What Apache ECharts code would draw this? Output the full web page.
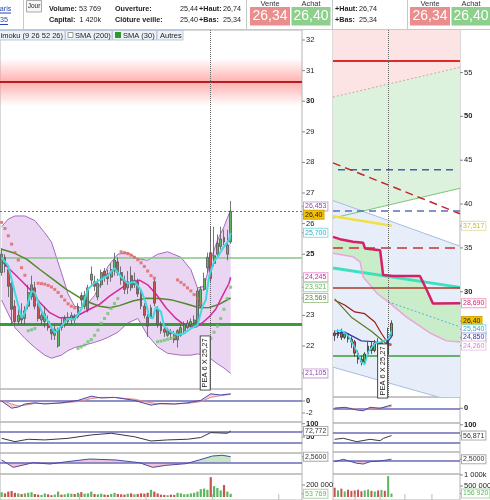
<!DOCTYPE html>
<html>
<head>
<meta charset="utf-8">
<title>Cours</title>
<script src="https://cdn.jsdelivr.net/npm/echarts@6/dist/echarts.min.js"></script>
<style>
  html, body { margin: 0; padding: 0; background: #fff; }
  #chart { width: 490px; height: 500px; }
</style>
</head>
<body>
<div id="chart"></div>
<script>
'use strict';

// ---------- daily chart (left) ----------
// [open, close, low, high] per session
const candles = [
  [24.40,25.00,24.30,25.20],[24.90,24.60,24.40,25.00],[24.50,23.95,23.60,24.60],[24.05,23.20,22.70,24.10],[23.30,22.80,22.70,23.50],
  [22.80,23.00,22.70,23.20],[23.00,22.85,22.70,23.40],[22.90,23.15,22.70,23.30],[23.30,23.75,23.20,24.00],[23.60,24.00,23.50,24.30],
  [23.90,23.30,23.20,24.10],[23.30,22.90,22.80,23.40],[22.85,23.00,22.70,23.10],[22.80,23.05,22.60,23.30],[22.80,22.60,22.50,23.00],
  [22.55,22.40,22.20,22.70],[22.35,22.55,22.20,22.70],[22.00,22.55,21.95,22.60],[22.70,22.60,22.50,22.90],[22.70,22.90,22.60,23.00],
  [22.80,22.95,22.70,23.10],[22.85,23.00,22.70,23.10],[22.95,22.85,22.75,23.05],[22.95,23.30,22.90,23.40],[23.65,23.50,23.30,23.75],
  [23.30,23.65,23.20,23.80],[23.20,23.90,23.10,24.00],[24.15,24.35,24.00,24.60],[24.10,23.95,23.80,24.30],[23.60,24.05,23.50,24.20],
  [24.00,24.40,23.90,24.50],[24.45,24.30,24.10,24.55],[24.35,24.20,24.00,24.50],[24.25,24.50,24.10,24.70],[24.45,24.80,24.30,25.05],
  [24.75,24.40,24.30,24.90],[24.40,24.15,24.00,24.60],[24.15,23.85,23.70,24.30],[23.90,24.10,23.70,24.45],[24.30,23.90,23.80,24.60],
  [24.00,24.15,23.90,24.40],[24.10,23.70,23.60,24.20],[23.75,23.30,23.20,23.85],[23.30,23.00,22.90,23.40],[22.95,22.65,22.30,23.05],
  [22.95,23.25,22.90,23.35],[24.10,23.40,23.30,24.20],[23.20,22.70,22.60,23.30],[22.70,22.50,22.40,22.80],[22.55,22.45,22.30,22.70],
  [22.35,22.50,22.30,22.60],[22.45,22.40,22.20,22.55],[22.40,22.20,22.10,22.50],[22.20,22.50,21.95,22.55],[22.35,22.60,22.30,22.70],
  [22.50,22.70,22.40,22.80],[22.60,22.75,22.55,22.85],[22.70,22.80,22.60,22.90],[22.75,22.85,22.70,23.00],[22.75,23.80,22.70,23.90],
  [23.30,23.85,23.25,23.95],[23.85,24.20,23.80,24.40],[24.55,24.90,24.40,25.05],[25.05,24.20,24.10,25.90],[24.70,24.95,24.60,25.90],
  [25.00,25.35,24.90,25.65],[25.25,25.50,25.15,25.90],[25.55,25.40,25.30,25.80],[25.00,25.30,24.80,25.80],[25.40,26.40,25.34,26.74]
];
const volumes = [
  80000,60000,90000,100000,70000,60000,50000,60000,70000,80000,
  50000,40000,35000,60000,45000,30000,40000,90000,40000,45000,
  60000,55000,50000,70000,80000,55000,60000,90000,50000,45000,
  55000,40000,35000,50000,70000,50000,45000,40000,55000,60000,
  45000,50000,60000,55000,70000,120000,90000,60000,40000,35000,
  30000,40000,35000,70000,60000,45000,50000,60000,70000,90000,
  130000,140000,120000,330000,180000,150000,110000,200000,90000,53769
];
// indicator lines, [session index, value]
const cyanLine = [[0,24.89],[2,24.62],[4,23.74],[6,22.92],[7,23.09],[9,23.8],[10,23.74],[12,23.14],[14,22.81],[16,22.43],
  [18,22.65],[20,22.89],[22,22.87],[24,23.2],[26,23.85],[28,24.07],[30,24.18],[32,24.31],[34,24.55],[36,24.26],[38,24.04],
  [40,24.1],[42,23.83],[43.5,23.39],[44.5,22.95],[45.5,22.9],[46.5,23.28],[48,23.12],[49,22.63],[51,22.46],[53,22.36],
  [55,22.41],[57,22.57],[59,22.68],[60.5,23.28],[61.5,23.5],[62.5,24.27],[64,24.76],[65.5,24.98],[67,25.25],[68.5,25.47],[69,25.7]];
const smaMagenta = [[0,24.78],[2.5,24.5],[5.5,24.18],[8.5,23.85],[11.5,23.42],[14.5,23.09],[17.5,22.92],[20.5,22.92],[23.5,23.03],
  [26.5,23.2],[29.5,23.36],[32.5,23.63],[35.5,23.85],[38.5,24.07],[41.5,24.15],[44,24.0],[46.5,23.7],[49.5,23.25],[52.5,22.9],
  [55.5,22.65],[58.5,22.62],[60.5,22.76],[62.5,22.95],[64.5,23.2],[66.5,23.63],[68.5,24.05],[69,24.245]];
const smaOlive = [[0,25.16],[3.5,25.05],[7.5,24.84],[11.5,24.5],[15.5,24.18],[19.5,23.85],[23.5,23.58],[26.5,23.42],[29.5,23.3],
  [32.5,23.25],[35.5,23.32],[39.5,23.47],[43.5,23.56],[47.5,23.55],[51.5,23.5],[55.5,23.38],[59.5,23.25],[62.5,23.26],[65.5,23.36],[69,23.569]];
const bollUpper = [[0,25.9],[2,26.15],[4,26.25],[7,26.25],[10,26.1],[13,25.7],[15,25.4],[18,24.4],[20,23.7],[22,23.3],[24,23.25],
  [26,23.4],[28,23.65],[30,24.1],[32,24.6],[35,25.0],[38,25.05],[41,24.85],[44,24.8],[47,25.0],[50,25.08],[54,24.9],[57,24.5],
  [59,23.9],[61,23.95],[63,24.8],[65,25.45],[67,25.9],[69,26.453]];
const bollLower = [[0,23.5],[2,23.05],[4,22.6],[7,22.25],[10,21.95],[13,21.7],[15,21.6],[18,21.7],[20,21.85],[22,21.95],[24,22.0],
  [26,22.06],[28,22.12],[30,22.19],[32,22.28],[35,22.45],[38,22.75],[41,22.9],[44,22.35],[47,21.97],[50,21.76],[54,21.7],[57,21.7],
  [59,21.74],[61,21.72],[63,21.58],[65,21.42],[67,21.28],[69,21.105]];
const sarAbove = [[0,26.04],[1,25.84],[2,25.6],[3,25.33],[4,25.05],[5,24.81],[6,24.56],[7,24.31],[11,24.05],[12,24.04],[13,24.02],
  [14,23.98],[15,23.93],[16,23.85],[17,23.75],[18,23.62],[19,23.5],[20,23.38],[21,23.3],[22,23.25],[36,25.08],[37,25.05],[38,25.02],
  [39,24.97],[40,24.9],[41,24.82],[42,24.72],[43,24.6],[44,24.45],[45,24.3],[46,24.22],[53,24.16],[54,24.08],[55,24.0],[56,23.9],
  [57,23.8],[58,23.68],[59,23.55],[60,23.4]];
const sarBelow = [[8,22.5],[9,22.53],[10,22.57],[23,21.92],[24,21.97],[25,22.03],[26,22.14],[27,22.21],[28,22.35],[29,22.52],
  [30,22.74],[31,22.9],[32,23.06],[33,23.23],[34,23.39],[35,23.55],[47,22.14],[48,22.16],[49,22.19],[50,22.22],[51,22.25],[52,22.29],
  [61,21.95],[62,22.05],[63,22.25],[64,22.45],[65,22.65],[66,22.9],[67,23.2],[68,23.55],[69,23.921]];
const macdLine = [[0,0.0],[3,-1.2],[5,-1.0],[7,-0.5],[10,-0.3],[13,-0.5],[18,-0.3],[23,0.1],[27,0.8],[30,0.5],[34,0.6],
  [40,0.1],[45,-0.7],[48,-0.4],[52,-0.5],[56,-0.3],[60,0.1],[63,1.2],[66,1.0],[69,1.2]];
const macdSignal = [[0,0.1],[3,-0.5],[5,-0.8],[7,-0.7],[10,-0.4],[13,-0.4],[18,-0.35],[23,-0.1],[27,0.4],[30,0.6],[34,0.6],
  [40,0.3],[45,-0.3],[48,-0.5],[52,-0.5],[56,-0.4],[60,-0.1],[63,0.6],[66,0.9],[69,1.1]];
const rsiLine = [[0,45],[4,32.5],[8,41.5],[13,39],[20,45],[27,57.7],[33,64],[40,51],[45,35],[50,39],[56,41.5],[60,48],[63,66.6],[68,64],[69,72.772]];
const oscLine = [[0,1.05],[3.5,-2.3],[9.5,-0.17],[14.5,-0.77],[19.5,0.26],[26.5,1.5],[34.5,1.05],[41.5,-0.17],[45.5,-2.3],
  [49.5,-1.36],[55.5,-0.62],[59.5,1.05],[63.5,2.86],[66.5,3.2],[69,2.56]];
const oscRiseFrom = 59.5;   // last positive stretch, shaded green
const leftLevels = { resistance: 30.63, resistanceGlow: [29.85, 31.4], lastClose: 26.40, support1: 24.88, support2: 22.72 };
const peaBarLeft = 63;
const leftMonthTicks = [24, 44, 64, 84];

// ---------- weekly chart (right) ----------
const rCandles = [
  [25.30,25.00,24.40,25.60],[25.00,25.40,24.70,25.70],[25.40,24.80,24.50,25.80],[24.80,25.20,24.60,25.40],[25.20,24.60,24.20,25.30],
  [24.60,24.30,23.60,24.90],[24.30,23.00,22.60,24.50],[23.00,22.30,21.80,23.30],[22.30,22.00,21.60,22.70],[22.00,22.90,21.80,23.10],
  [22.90,23.80,22.70,24.30],[23.80,23.30,22.90,24.40],[23.30,24.10,23.10,24.50],[24.10,23.90,22.60,24.70],[23.90,24.20,22.30,24.40],
  [23.60,22.80,22.30,23.80],[22.90,24.90,22.70,25.90],[24.95,26.40,24.80,26.74]
];
const rVolumes = [420000,300000,380000,250000,330000,280000,300000,330000,260000,300000,340000,280000,250000,300000,320000,280000,950000,156920];
const rCyan = [[0,25.5],[2,25.6],[4,25.0],[6,23.7],[8,22.0],[9,21.7],[10,23.1],[12,24.1],[14,24.3],[16,24.6],[17,25.54]];
const rDarkRed = [[0,29.04],[3,28.5],[6,27.7],[9,27.5],[12,26.56],[14,25.24],[16,24.1],[17,24.0]];
const rOlive = [[0,29.2],[5,27.1],[11,25.5],[16,23.9],[17,23.9]];
const rBlue = [[0,25.2],[3,25.4],[5,25.0],[8,24.4],[12,24.3],[15,23.9],[17,24.85]];
// drawn trend lines, [x in bars from left edge, value]
const chanTop = [[0,52.2],[38,55.6]];
const chanBottom = [[0,38.4],[38,41.8]];
const blueTop = [[0,40.4],[38,35.2]];
const blueBottom = [[0,21.4],[38,17.3]];
const blueBottomVisible = [[0,21.4],[31.5,18.0],[38,18.0]];
const redDashDown = [[0,44.7],[38,38.9]];
const blueDashShort = [[1.5,43.9],[36,43.9]];
const yellowLine = [[0,38.6],[17.6,37.517]];
const tealLine = [[0,32.7],[38,30.5]];
const cyanDotted = [[16.5,28.85],[38,26.0]];
const spanA = [[0,36.26],[2.1,36.0],[6,35.7],[9,35.6],[9.6,34.93],[14.1,34.74],[15,31.9],[18,31.8],[26,31.8],[28.1,30.18],[29.9,28.66],[38,28.69]];
const spanB = [[0,34.4],[6,34.0],[8.1,33.4],[9,31.7],[13.2,29.8],[17,28.7],[22,27.1],[29,25.3],[34,24.4],[38,24.26]];
const rightLevels = { top: 56.3, topGlow: [55.6, 57.0], blueDash: 39.2, red35: 35.0, red35Glow: [34.55, 35.45],
  red30: 30.5, red30Glow: [30.05, 30.95], support: 22.7 };
const rMacd = [[0,0],[3,0.17],[6.6,-0.28],[8.6,-0.4],[10.6,0.17],[13.6,0],[17,0.55]];
const rSignal = [[0,0.05],[3,0.1],[6.6,-0.1],[8.6,-0.25],[10.6,-0.1],[13.6,0.05],[17,0.3]];
const rRsi = [[0,42],[2.6,46],[6.6,32.4],[10.6,42],[13.6,36.4],[14.6,46],[17,56.871]];
const rOsc = [[0,-1.8],[2.6,2.5],[6.6,-4.6],[8.6,-5.9],[10.6,-1.8],[13.6,-0.5],[17,2.5]];
const peaBarRight = 16;
const rightMonthTicks = [6.6, 14.1, 21.5, 29.6];

// ---------- texts ----------
const leftTicks = [32, 31, 30, 29, 28, 27, 26, 25, 23, 22];
const rightTicks = [55, 50, 45, 40, 35, 30];
const leftTagValues = [26.453, 26.40, 25.70, 24.245, 23.921, 23.569, 21.105];
const leftTagTexts = ['26,453', '26,40', '25,700', '24,245', '23,921', '23,569', '21,105'];
const rightTagValues = [37.517, 28.690, 26.40, 25.540, 24.850, 24.260];
const rightTagTexts = ['37,517', '28,690', '26,40', '25,540', '24,850', '24,260'];
const lowerTicks = [[1,0,'0'],[1,-2,'-2'],[2,100,'100'],[2,50,'50'],[4,200000,'200 000'],
  [6,0,'0'],[7,100,'100'],[9,1000000,'1 000k'],[9,500000,'500 000']];
const lowerTags = [[2,72.772,'72,772'],[3,2.56,'2,5600'],[4,53769,'53 769'],
  [7,56.871,'56,871'],[8,2.5,'2,5000'],[9,156920,'156 920']];
const peaText = 'PEA 6 X 25,27';
const quote = { volume: '53 769', capital: '1 420k', ouverture: '25,44', cloture: '25,40',
  haut: '26,74', bas: '25,34', vente: '26,34', achat: '26,40' };

// ---------- layout & style ----------
const FONT = '"Liberation Sans", Arial, sans-serif';
const UP = '#5cb85c', DOWN = '#c9514e';
const HF = 7.2;   // header font size
const gridsL = [[30,359],[389,33],[422,31],[453,21],[474,26]];
const gridsR = [[30,367],[397,26],[423,29],[452,22],[474,26]];
const rangesL = [[20.595,32.327],[-3.5,2],[-10.2,106.4],[-5.3,4.23],[-50000,383000]];
const rangesR = [[18.0,59.85],[-2.45,1.88],[-8.8,107.2],[-23.75,15.5],[-136000,1045000]];
const boldTexts = ['30', '25', '50', '0', '100'];
const leftTagStyle = [
  {c:'#8e44ad', b:'#c7a3d8'}, {c:'#222', b:'#d9a800', bg:'#f2c200'}, {c:'#27b3c4', b:'#8fdbe4'},
  {c:'#d0249c', b:'#e9a0d2'}, {c:'#5cb85c', b:'#a8d8a8'}, {c:'#4f8a2a', b:'#a8c890'}, {c:'#8e44ad', b:'#c7a3d8'}];
const rightTagStyle = [
  {c:'#c2ba3a', b:'#e6e0a0'}, {c:'#d61e6a', b:'#eea0c0'}, {c:'#222', b:'#d9a800', bg:'#f2c200'},
  {c:'#27b3c4', b:'#8fdbe4'}, {c:'#3535a5', b:'#a0a0d8'}, {c:'#d982c8', b:'#f0c0e8'}];
const lowerTagStyle = [{c:'#333', b:'#aaa'}, {c:'#333', b:'#aaa'}, {c:'#5cb85c', b:'#a8d8a8'},
  {c:'#333', b:'#aaa'}, {c:'#333', b:'#aaa'}, {c:'#5cb85c', b:'#a8d8a8'}];

const chart = echarts.init(document.getElementById('chart'));

const C = arr => arr.map(p => [p[0] + 0.5, p[1]]);   // session index -> bar centre

function glow(rgb, a) {
  return { type: 'linear', x: 0, y: 0, x2: 0, y2: 1, colorStops: [
    { offset: 0, color: 'rgba(' + rgb + ',0)' },
    { offset: 0.5, color: 'rgba(' + rgb + ',' + a + ')' },
    { offset: 1, color: 'rgba(' + rgb + ',0)' }] };
}
function lineS(ax, data, color, width, extra) {
  return Object.assign({ type: 'line', xAxisIndex: ax, yAxisIndex: ax, data: data, symbol: 'none',
    silent: true, z: 5, lineStyle: { color: color, width: width } }, extra || {});
}
function bandS(ax, upper, lower, fill, z) {
  return { type: 'custom', xAxisIndex: ax, yAxisIndex: ax, silent: true, z: z || 1,
    data: [[lower[0][0], lower[0][1]]],
    renderItem: function (params, api) {
      const pts = upper.map(p => api.coord(p));
      for (let k = lower.length - 1; k >= 0; k--) pts.push(api.coord(lower[k]));
      return { type: 'polygon', shape: { points: pts }, style: { fill: fill } };
    } };
}
function marks(ax, lines, areas, z) {
  const s = { type: 'line', xAxisIndex: ax, yAxisIndex: ax, data: [], silent: true, z: z || 4 };
  if (lines) s.markLine = { silent: true, symbol: 'none', label: { show: false }, data: lines };
  if (areas) s.markArea = { silent: true, label: { show: false }, data: areas };
  return s;
}
const hl = (v, color, width, type) => ({ yAxis: v, lineStyle: { color: color, width: width, type: type || 'solid' } });
const vl = (v) => ({ xAxis: v, lineStyle: { color: '#666', width: 1, type: 'dotted' } });
const glowArea = (range, rgb, a) => [{ yAxis: range[0], itemStyle: { color: glow(rgb, a) } }, { yAxis: range[1] }];

const grid = [], xAxis = [], yAxis = [];
gridsL.forEach((g, k) => {
  grid.push({ left: 0, top: g[0], width: 302, height: g[1], show: true, borderColor: '#b4b4b4', borderWidth: 1 });
  xAxis.push({ type: 'value', gridIndex: k, min: 0, max: 91, show: false });
  yAxis.push({ type: 'value', gridIndex: k, min: rangesL[k][0], max: rangesL[k][1], show: false });
});
gridsR.forEach((g, k) => {
  grid.push({ left: 333, top: g[0], width: 127, height: g[1], show: true, borderColor: '#b4b4b4', borderWidth: 1 });
  xAxis.push({ type: 'value', gridIndex: k + 5, min: 0, max: 38, show: false });
  yAxis.push({ type: 'value', gridIndex: k + 5, min: rangesR[k][0], max: rangesR[k][1], show: false });
});

const series = [];
// left main panel
series.push(bandS(0, C(bollUpper), C(bollLower), '#ead6f2', 1));
series.push(marks(0, null, [glowArea(leftLevels.resistanceGlow, '255,150,150', 0.75)], 2));
series.push(lineS(0, C(bollUpper), '#a56cc1', 1, { z: 3 }));
series.push(lineS(0, C(bollLower), '#a56cc1', 1, { z: 3 }));
series.push(marks(0, [hl(leftLevels.resistance, '#b41e1e', 2), hl(leftLevels.lastClose, '#e04848', 1, [2, 2]),
  hl(leftLevels.support1, '#86c486', 1.5), hl(leftLevels.support2, '#3b9b3b', 3), vl(peaBarLeft + 0.5)], null, 4));
series.push(lineS(0, C(smaOlive), '#4f8a2a', 1.5));
series.push(lineS(0, C(smaMagenta), '#d42a9c', 1.5));
series.push({ type: 'candlestick', xAxisIndex: 0, yAxisIndex: 0, silent: true, z: 6, barWidth: 2.4,
  data: candles.map((c, i) => [i + 0.5].concat(c)),
  itemStyle: { color: UP, color0: DOWN, borderColor: '#555', borderColor0: '#555', borderWidth: 0.8 } });
series.push(lineS(0, C(cyanLine), '#3fd8e4', 2, { z: 7 }));
series.push({ type: 'scatter', xAxisIndex: 0, yAxisIndex: 0, silent: true, z: 8, symbol: 'rect', symbolSize: 3,
  data: C(sarAbove), itemStyle: { color: '#e0625f' } });
series.push({ type: 'scatter', xAxisIndex: 0, yAxisIndex: 0, silent: true, z: 8, symbol: 'rect', symbolSize: 3,
  data: C(sarBelow), itemStyle: { color: '#6cc46c' } });
// left lower panels
series.push(bandS(1, C(macdLine), C(macdSignal), 'rgba(235,170,195,0.55)', 1));
series.push(marks(1, [hl(0, '#6a6ab8', 1.5)], null, 3));
series.push(lineS(1, C(macdSignal), '#e08a8a', 1));
series.push(lineS(1, C(macdLine), '#4a4aa8', 1));
series.push(marks(2, [hl(70, '#6a6ab8', 1.5), hl(30, '#6a6ab8', 1.5)], null, 3));
series.push(lineS(2, C(rsiLine), '#3a3a3a', 1));
series.push(lineS(3, C(oscLine), '#4a4aa8', 0, { z: 2, areaStyle: { color: '#f2c4d2', opacity: 1 } }));
series.push(lineS(3, C(oscLine.filter(p => p[0] >= oscRiseFrom)), '#4a4aa8', 0, { z: 3, areaStyle: { color: '#c4e8c4', opacity: 1 } }));
series.push(marks(3, [hl(0, '#6a6ab8', 1.5)], null, 4));
series.push(lineS(3, C(oscLine), '#4a4aa8', 1));
series.push({ type: 'bar', xAxisIndex: 4, yAxisIndex: 4, silent: true, barWidth: 2.2,
  data: volumes.map((v, i) => [i + 0.5, v]),
  itemStyle: { color: p => (candles[p.dataIndex][1] >= candles[p.dataIndex][0] ? UP : DOWN) } });

// right main panel
series.push(bandS(5, [[0, rangesR[0][1]], [38, rangesR[0][1]]], chanTop, '#fde4e4', 1));
series.push(bandS(5, chanTop, chanBottom, '#ddf2dd', 1));
series.push(bandS(5, blueTop, blueBottomVisible, '#e7eef9', 1));
series.push(bandS(5, spanA, spanB, '#c9edc9', 2));
series.push(marks(5, null, [glowArea(rightLevels.topGlow, '250,160,160', 0.5),
  glowArea(rightLevels.red35Glow, '240,150,150', 0.7), glowArea(rightLevels.red30Glow, '245,170,140', 0.7)], 2));
series.push(lineS(5, chanTop, '#d4a49c', 1, { z: 3, lineStyle: { color: '#d4a49c', width: 1, type: [2, 2] } }));
series.push(lineS(5, chanBottom, '#7cc47c', 1, { z: 3 }));
series.push(lineS(5, blueTop, '#a6bde2', 1, { z: 3 }));
series.push(lineS(5, blueBottom, '#a6bde2', 1, { z: 3 }));
series.push(marks(5, [hl(rightLevels.top, '#e02a2a', 2), hl(rightLevels.blueDash, '#5a6fc0', 1.5, [7, 5]),
  hl(rightLevels.red35, '#c83232', 1.5, [10, 6]), hl(rightLevels.red30, '#a83a2a', 1.5),
  hl(rightLevels.support, '#3b9b3b', 1.5), vl(peaBarRight + 0.5)], null, 4));
series.push(lineS(5, blueDashShort, '#3f5fb0', 1.5, { z: 4, lineStyle: { color: '#3f5fb0', width: 1.5, type: [7, 5] } }));
series.push(lineS(5, redDashDown, '#c0282e', 1.5, { z: 4, lineStyle: { color: '#c0282e', width: 1.5, type: [8, 5] } }));
series.push(lineS(5, yellowLine, '#f0e040', 2.5, { z: 4 }));
series.push(lineS(5, tealLine, '#3ee0c0', 3, { z: 4 }));
series.push(lineS(5, spanB, '#eba5dc', 1.5, { z: 4 }));
series.push(lineS(5, spanA, '#d61e6a', 2.5, { z: 4 }));
series.push(lineS(5, cyanDotted, '#5ab0d8', 1, { z: 4, lineStyle: { color: '#5ab0d8', width: 1, type: [2, 2] } }));
series.push(lineS(5, C(rDarkRed), '#9a1c1c', 1.2));
series.push(lineS(5, C(rOlive), '#5a7a1a', 1.2));
series.push({ type: 'candlestick', xAxisIndex: 5, yAxisIndex: 5, silent: true, z: 6, barWidth: 2.2,
  data: rCandles.map((c, i) => [i + 0.5].concat(c)),
  itemStyle: { color: UP, color0: DOWN, borderColor: '#333', borderColor0: '#333', borderWidth: 0.8 } });
series.push(lineS(5, C(rBlue), '#3535a5', 1.2, { z: 7 }));
series.push(lineS(5, C(rCyan), '#3fd8e4', 1.5, { z: 7 }));
// right lower panels
series.push(bandS(6, C(rMacd), C(rSignal), 'rgba(235,170,195,0.55)', 1));
series.push(marks(6, [hl(0, '#6a6ab8', 1.5)], null, 3));
series.push(lineS(6, C(rSignal), '#e08a8a', 1));
series.push(lineS(6, C(rMacd), '#4a4aa8', 1));
series.push(marks(7, [hl(70, '#6a6ab8', 1.5), hl(30, '#6a6ab8', 1.5)], null, 3));
series.push(lineS(7, C(rRsi), '#3a3a3a', 1));
series.push(lineS(8, C(rOsc), '#4a4aa8', 0, { z: 2, areaStyle: { color: '#f2c4d2', opacity: 1 } }));
series.push(marks(8, [hl(0, '#6a6ab8', 1.5)], null, 4));
series.push(lineS(8, C(rOsc), '#4a4aa8', 1));
series.push({ type: 'bar', xAxisIndex: 9, yAxisIndex: 9, silent: true, barWidth: 2,
  data: rVolumes.map((v, i) => [i + 0.5, v]),
  itemStyle: { color: p => (rCandles[p.dataIndex][1] >= rCandles[p.dataIndex][0] ? UP : DOWN) } });

chart.setOption({
  animation: false,
  backgroundColor: '#fff',
  textStyle: { fontFamily: FONT },
  grid: grid, xAxis: xAxis, yAxis: yAxis, series: series
});

// ---------- overlay: header, legend, axis labels, tags ----------
function text(x, y, s, o) {
  o = o || {};
  const align = o.align || 'left';
  const style = { text: s, fill: o.color || '#222', font: (o.bold ? 'bold ' : '') + (o.size || 7.5) + 'px ' + FONT,
    align: align, verticalAlign: 'middle', textAlign: align, textVerticalAlign: 'middle' };
  if (o.bg) style.backgroundColor = o.bg;
  if (o.border) { style.borderColor = o.border; style.borderWidth = 1; }
  if (o.pad) style.padding = o.pad;
  return { type: 'text', x: x, y: y, z: 60, silent: true, rotation: o.rotation || 0, style: style };
}
function rect(x, y, w, h, fill, stroke) {
  return { type: 'rect', z: 50, silent: true, shape: { x: x, y: y, width: w, height: h },
    style: { fill: fill, stroke: stroke || null, lineWidth: 1 } };
}
function seg(x1, y1, x2, y2, color, w) {
  return { type: 'line', z: 55, silent: true, shape: { x1: x1, y1: y1, x2: x2, y2: y2 }, style: { stroke: color, lineWidth: w || 1 } };
}
function spread(ys, gap) {
  const order = ys.map((y, k) => k).sort((a, b) => ys[a] - ys[b]);
  const out = ys.slice();
  for (let it = 0; it < 40; it++) {
    for (let k = 0; k < order.length - 1; k++) {
      const a = order[k], b = order[k + 1], d = out[b] - out[a];
      if (d < gap) { out[a] -= (gap - d) / 2; out[b] += (gap - d) / 2; }
    }
  }
  return out;
}
const pxY = (ax, v) => chart.convertToPixel({ gridIndex: ax }, [0, v])[1];
const pxX = (ax, v) => chart.convertToPixel({ gridIndex: ax }, [v, 0])[0];

const g = [];
// header strip
g.push(rect(0, 0, 490, 29.5, '#fff'));
g.push(seg(0, 29.5, 490, 29.5, '#c8c8c8'));
g.push(text(-5, 9, 'Paris', { color: '#2646b4', size: HF }), seg(0, 13, 11, 13, '#2646b4'));
g.push(text(0, 20.5, '35', { color: '#2646b4', size: HF }), seg(0, 24.5, 8, 24.5, '#2646b4'));
g.push(seg(23.5, 0, 23.5, 29, '#c8c8c8'));
g.push(rect(26.5, 0.5, 15, 11.5, '#f6f6f6', '#aaa'), text(34, 6.5, 'Jour', { size: 6.5, align: 'center' }));
g.push(text(49, 9, 'Volume:', { bold: true, size: HF }), text(101, 9, quote.volume, { size: HF, align: 'right' }));
g.push(text(49, 20.5, 'Capital:', { bold: true, size: HF }), text(101, 20.5, quote.capital, { size: HF, align: 'right' }));
g.push(text(115, 9, 'Ouverture:', { bold: true, size: HF }), text(198, 9, quote.ouverture, { size: HF, align: 'right' }));
g.push(text(115, 20.5, 'Clôture veille:', { bold: true, size: HF }), text(198, 20.5, quote.cloture, { size: HF, align: 'right' }));
g.push(text(199, 9, '+Haut:', { bold: true, size: HF }), text(241, 9, quote.haut, { size: HF, align: 'right' }));
g.push(text(199, 20.5, '+Bas:', { bold: true, size: HF }), text(241, 20.5, quote.bas, { size: HF, align: 'right' }));
g.push(seg(246.5, 0, 246.5, 29.5, '#c8c8c8'));
g.push(seg(332.5, 0, 332.5, 30, '#c8c8c8'));
g.push(seg(407.5, 0, 407.5, 29.5, '#c8c8c8'));
g.push(text(335, 9, '+Haut:', { bold: true, size: HF }), text(359, 9, quote.haut, { size: HF }));
g.push(text(335, 20.5, '+Bas:', { bold: true, size: HF }), text(359, 20.5, quote.bas, { size: HF }));
[250, 410].forEach(x0 => {
  g.push(text(x0 + 20, 3.5, 'Vente', { size: 7.5, align: 'center', color: '#333' }));
  g.push(text(x0 + 61, 3.5, 'Achat', { size: 7.5, align: 'center', color: '#333' }));
  g.push(rect(x0, 7, 40, 18.5, '#e98d8d'), text(x0 + 20, 16.5, quote.vente, { size: 14, align: 'center', color: '#fff' }));
  g.push(rect(x0 + 41.5, 7, 39, 18.5, '#8dcf8d'), text(x0 + 61, 16.5, quote.achat, { size: 14, align: 'center', color: '#fff' }));
});
// legend row of the daily chart
g.push(rect(-2, 30.5, 67, 9.5, '#edf2f8', '#b9c9da'), text(63, 35.5, 'Ichimoku (9 26 52 26)', { size: 7.5, align: 'right' }));
g.push(rect(65.5, 30.5, 46.5, 9.5, '#edf2f8', '#b9c9da'), rect(68, 32.5, 5, 5, '#fff', '#999'), text(75, 35.5, 'SMA (200)', { size: 7.5 }));
g.push(rect(112.5, 30.5, 44, 9.5, '#edf2f8', '#b9c9da'), rect(115, 32, 6, 6, '#2c9a2c'), text(123, 35.5, 'SMA (30)', { size: 7.5 }));
g.push(rect(157, 30.5, 26, 9.5, '#edf2f8', '#b9c9da'), text(160, 35.5, 'Autres', { size: 7.5 }));

// axis ticks and labels
leftTicks.forEach(v => {
  const y = pxY(0, v);
  g.push(seg(302, y, 305, y, '#888'), text(306, y, String(v), { size: 7.5, bold: boldTexts.includes(String(v)) }));
});
rightTicks.forEach(v => {
  const y = pxY(5, v);
  g.push(seg(460, y, 463, y, '#888'), text(464, y, String(v), { size: 7.5, bold: boldTexts.includes(String(v)) }));
});
lowerTicks.forEach(t => {
  const y = pxY(t[0], t[1]), x = t[0] < 5 ? 302 : 460;
  g.push(seg(x, y, x + 3, y, '#888'), text(x + 4, y, t[2], { size: 7.5, bold: boldTexts.includes(t[2]) }));
});
// value tags
function addTags(ax, values, texts, styles, x) {
  const ys = spread(values.map(v => pxY(ax, v)), 8.2);
  texts.forEach((s, k) => {
    const st = styles[k];
    g.push(seg(x - 2, ys[k], x, ys[k], '#888'));
    g.push(text(x, ys[k], s, { size: 7, color: st.c, bg: st.bg || '#fff', border: st.b, pad: [1, 1, 0, 1] }));
  });
}
addTags(0, leftTagValues, leftTagTexts, leftTagStyle, 304);
addTags(5, rightTagValues, rightTagTexts, rightTagStyle, 462);
lowerTags.forEach((t, k) => {
  const y = pxY(t[0], t[1]), x = t[0] < 5 ? 304 : 462, st = lowerTagStyle[k];
  g.push(seg(x - 2, y, x, y, '#888'), text(x, y, t[2], { size: 7, color: st.c, bg: '#fff', border: st.b, pad: [1, 1, 0, 1] }));
});
// PEA markers on the date line
[[0, peaBarLeft, gridsL[0]], [5, peaBarRight, gridsR[0]]].forEach(m => {
  const x = pxX(m[0], m[1] + 0.5), bottom = m[2][0] + m[2][1];
  g.push(text(x - 5.5, bottom - 26, peaText, { size: 7.5, rotation: Math.PI / 2, align: 'center',
    bg: '#fff', border: '#444', pad: [1, 2, 0, 2] }));
});
// month ticks under the volume panels
leftMonthTicks.forEach(v => { const x = pxX(4, v); g.push(seg(x, 494, x, 500, '#bbb')); });
rightMonthTicks.forEach(v => { const x = pxX(9, v); g.push(seg(x, 494, x, 500, '#bbb')); });

chart.setOption({ graphic: { elements: g } });
</script>
</body>
</html>
